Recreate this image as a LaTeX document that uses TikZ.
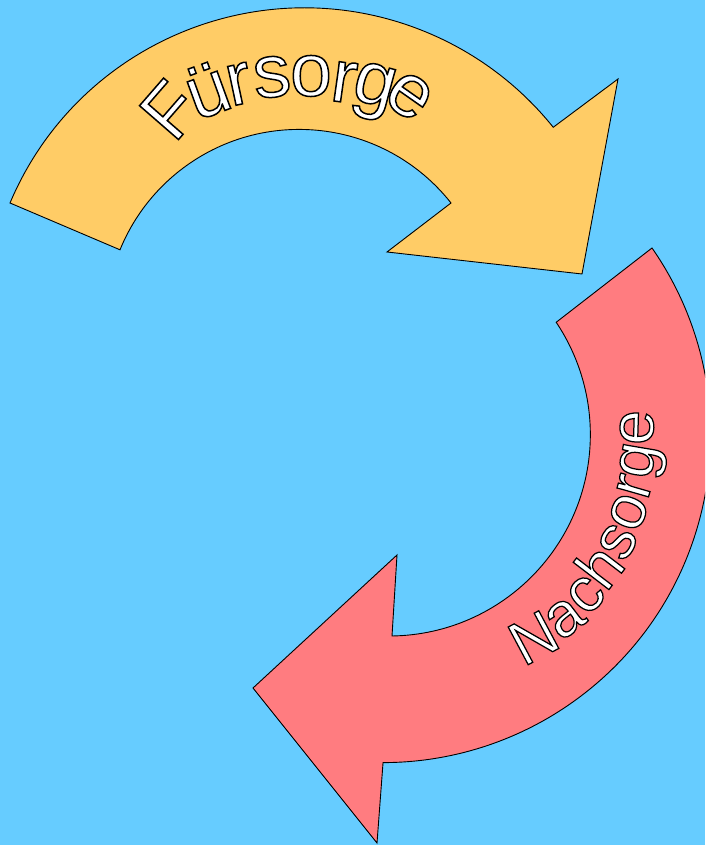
\documentclass[tikz,border=0pt]{standalone}
\usepackage{fontspec}
\setmainfont{Liberation Sans}
\newfontface\outlinefont[FakeBold=2]{Liberation Sans}
\newcommand\olt[1]{{\color{white}\special{pdf:literal direct 0 0 0 RG}#1}}
\definecolor{bgblue}{HTML}{66CCFF}
\definecolor{yellowc}{HTML}{FFCC66}
\definecolor{redc}{HTML}{FF7C80}
\begin{document}
\begin{tikzpicture}[x=1pt,y=1pt,
  arrowshape/.style={draw=black, line width=0.9pt, line join=miter},
  lettera/.style={inner sep=0pt, font=\outlinefont\fontsize{75}{80}\selectfont},
  letterb/.style={inner sep=0pt, anchor=base, font=\outlinefont\fontsize{62}{70}\selectfont}]
\useasboundingbox (0,0) rectangle (705,845);
\clip (0,0) rectangle (705,845);
\fill[bgblue] (0,0) rectangle (705,845);

% top arrow (Fuersorge)
\filldraw[arrowshape, fill=yellowc] (10,642) arc[start angle=157.1, end angle=38.77, radius=319.4]
  -- (618,766) -- (582,571) -- (387,593) -- (451,642)
  arc[start angle=38.3, end angle=157.8, radius=193.5] -- cycle;

% bottom arrow (Nachsorge)
\filldraw[arrowshape, fill=redc] (652,597) arc[start angle=34.81, end angle=-90, radius=327.6]
  -- (377,2) -- (253,157) -- (397,290) -- (392,209)
  arc[start angle=-89.1, end angle=33.85, radius=201.5] -- cycle;

% Fuersorge letters
\node[lettera, rotate=49]  (f1) at (170,735) {\olt{F}};
\node[lettera, rotate=20]  (f2) at (207,755) {\olt{ü}};
\node[lettera, rotate=12]  (f3) at (239,761) {\olt{r}};
\node[lettera, rotate=6]   (f4) at (272,768) {\olt{s}};
\node[lettera, rotate=0]   (f5) at (311,769) {\olt{o}};
\node[lettera, rotate=-8]  (f6) at (344,763) {\olt{r}};
\node[lettera, rotate=-15] (f7) at (373,753) {\olt{g}};
\node[lettera, rotate=-35] (f8) at (409,749) {\olt{e}};

% Nachsorge letters (baselines on a circle round nc)
\coordinate (nc) at (400,398);
\node[letterb, rotate=28]   (n1) at ([shift={(-55.6:254)}]nc) {\olt{N}};
\node[letterb, rotate=37.5] (n2) at ([shift={(-46.5:254)}]nc) {\olt{a}};
\node[letterb, rotate=45]   (n3) at ([shift={(-38.9:254)}]nc) {\olt{c}};
\node[letterb, rotate=52.6] (n4) at ([shift={(-31.4:254)}]nc) {\olt{h}};
\node[letterb, rotate=60]   (n5) at ([shift={(-23.9:254)}]nc) {\olt{s}};
\node[letterb, rotate=67.7] (n6) at ([shift={(-16.3:254)}]nc) {\olt{o}};
\node[letterb, rotate=74]   (n7) at ([shift={(-10.0:254)}]nc) {\olt{r}};
\node[letterb, rotate=80.4] (n8) at ([shift={(-3.6:254)}]nc) {\olt{g}};
\node[letterb, rotate=88.3] (n9) at ([shift={(4.3:254)}]nc) {\olt{e}};
\end{tikzpicture}
\end{document}
